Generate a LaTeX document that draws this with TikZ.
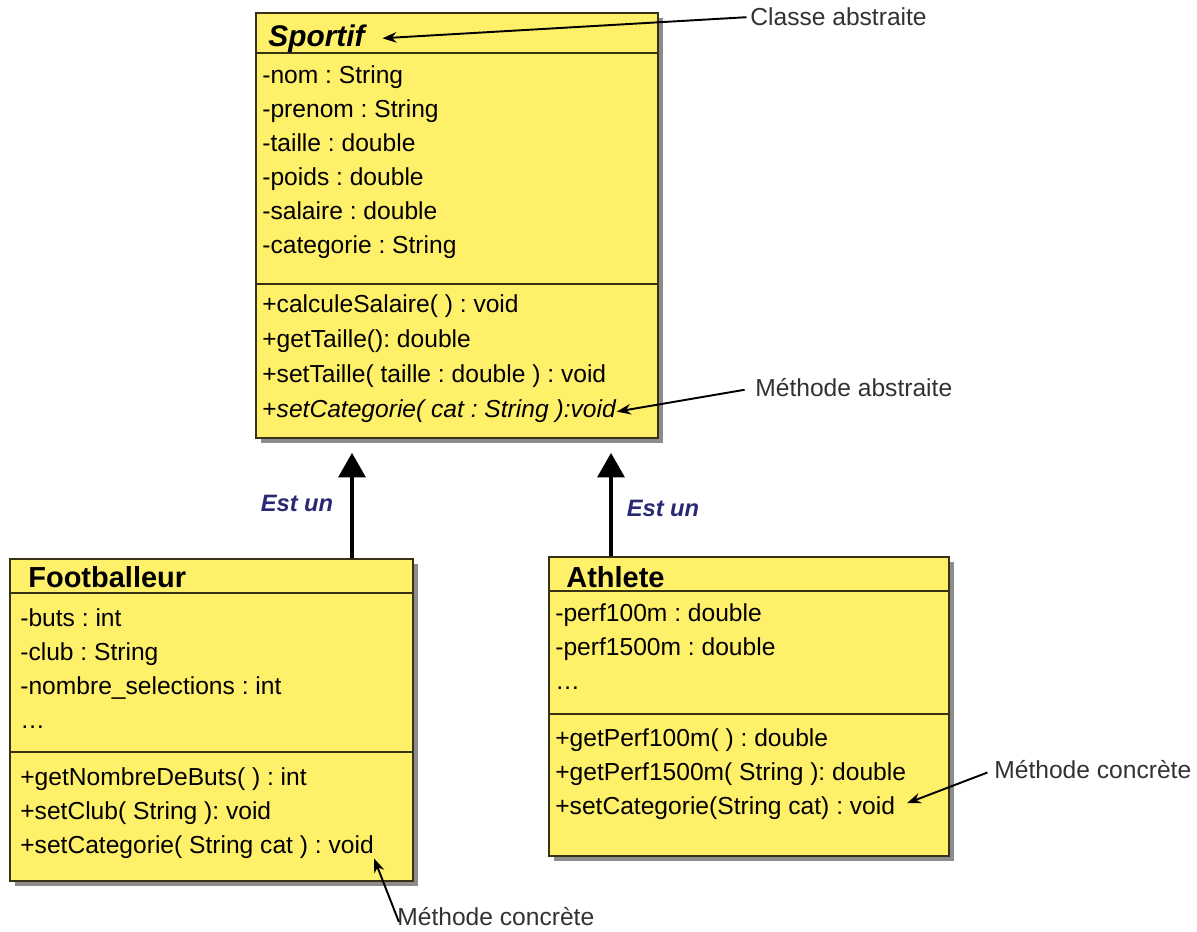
\documentclass[tikz,border=0pt]{standalone}
\usepackage{fontspec}
\setmainfont{Liberation Sans}
\usetikzlibrary{shadows,arrows.meta}

\definecolor{umlyellow}{RGB}{255,240,105}
\definecolor{umlborder}{RGB}{55,50,20}
\definecolor{estblue}{RGB}{40,40,115}
\definecolor{notegray}{RGB}{50,50,50}

\tikzset{
  classbox/.style={draw=umlborder, line width=1pt, fill=umlyellow, anchor=north west,
    inner sep=0pt, drop shadow={shadow xshift=3pt, shadow yshift=-3pt, fill=black!75, opacity=0.6}},
  member/.style={anchor=base west, inner sep=0pt, font=\fontsize{14}{16}\selectfont},
  classname/.style={anchor=base west, inner sep=0pt, font=\fontsize{16.5}{18}\selectfont\bfseries},
  divider/.style={umlborder, line width=1.7pt},
  isa/.style={line width=2.8pt, -{Triangle[width=15pt,length=14pt]}},
  estun/.style={inner sep=0pt, text=estblue, font=\fontsize{13.5}{15}\selectfont\bfseries\itshape},
  note/.style={anchor=west, inner sep=0pt, text=notegray, font=\fontsize{14}{16}\selectfont},
  notearrow/.style={line width=1.1pt, -{Stealth[length=8pt,width=6pt]}}
}
\frenchspacing

\begin{document}
\begin{tikzpicture}[x=0.02cm, y=-0.02cm]
    \useasboundingbox (0,0) rectangle (1197,932);

    \node[classbox, minimum width=8.04cm, minimum height=8.5cm] (sportif) at (255,12) {};
    \node[classbox, minimum width=8.06cm, minimum height=6.44cm] (footballeur) at (9,558) {};
    \node[classbox, minimum width=8.0cm, minimum height=5.98cm] (athlete) at (548,556) {};

    \draw[divider] (sportif.west |- 0,53) -- (sportif.east |- 0,53);
    \draw[divider] (sportif.west |- 0,284) -- (sportif.east |- 0,284);
    \draw[divider] (footballeur.west |- 0,593) -- (footballeur.east |- 0,593);
    \draw[divider] (footballeur.west |- 0,752) -- (footballeur.east |- 0,752);
    \draw[divider] (athlete.west |- 0,591) -- (athlete.east |- 0,591);
    \draw[divider] (athlete.west |- 0,714) -- (athlete.east |- 0,714);

    \node[classname, font=\fontsize{17}{19}\selectfont\bfseries\itshape] (sptitle) at (268,47) {Sportif};
    \foreach \t [count=\i] in {-nom : String, -prenom : String, -taille : double,
        -poids : double, -salaire : double, -categorie : String}
        \node[member] (spattr\i) at (262,50+34*\i) {\t};
    \foreach \t [count=\i] in {+calculeSalaire( ) : void, +getTaille(): double,
        +setTaille( taille : double ) : void}
        \node[member] (spmeth\i) at (262,278+35*\i) {\t};
    \node[member] (spmeth4) at (262,418) {+\textit{setCategorie( cat : String ):void}};

    \node[classname] (fbtitle) at (28,587) {Footballeur};
    \foreach \t [count=\i] in {-buts : int, -club : String, -nombre\_selections : int}
        \node[member] (fbattr\i) at (20,592+34*\i) {\t};
    \node[member] (fbattr4) at (20,728) {\dots};
    \foreach \t [count=\i] in {+getNombreDeButs( ) : int, +setClub( String ): void,
        +setCategorie( String cat ) : void}
        \node[member] (fbmeth\i) at (20,751+34*\i) {\t};

    \node[classname] (attitle) at (566,587) {Athlete};
    \foreach \t [count=\i] in {-perf100m : double, -perf1500m : double}
        \node[member] (atattr\i) at (555,587+34*\i) {\t};
    \node[member] (atattr3) at (555,689) {\dots};
    \foreach \t [count=\i] in {+getPerf100m( ) : double, +getPerf1500m( String ): double,
        +setCategorie(String cat) : void}
        \node[member] (atmeth\i) at (555,712+34*\i) {\t};

    \draw[isa, shorten >=8pt] (footballeur.north -| 352,0) -- (sportif.south -| 352,0);
    \draw[isa, shorten >=8pt] (athlete.north -| 611,0) -- (sportif.south -| 611,0);
    \node[estun] (estun1) at (297,503) {Est un};
    \node[estun] (estun2) at (663,508) {Est un};

    \node[note] (clsabs) at (750,17) {Classe abstraite};
    \node[note] (mabs) at (755,388) {Méthode abstraite};
    \node[note] (mcath) at (994,770) {Méthode concrète};
    \node[note] (mcfoot) at (397,917) {Méthode concrète};

    \draw[notearrow, shorten >=10pt, shorten <=2pt] (clsabs.west) -- (sptitle.east);
    \draw[notearrow, shorten <=6pt] (mabs.west) -- (spmeth4.east);
    \draw[notearrow, shorten >=7pt, shorten <=4pt] (mcath.west) -- (atmeth3.east);
    \draw[notearrow, shorten <=-3pt] (mcfoot.west) -- (fbmeth3.south east);
\end{tikzpicture}
\end{document}
